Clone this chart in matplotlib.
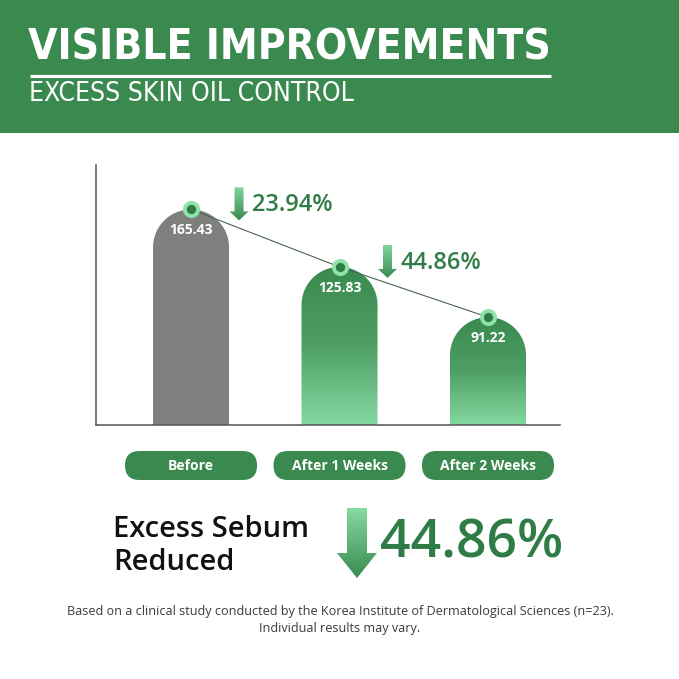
import matplotlib.pyplot as plt
import numpy as np
from matplotlib.patches import Rectangle, FancyBboxPatch, Polygon, PathPatch
from matplotlib.path import Path
from matplotlib.colors import LinearSegmentedColormap

categories = ['Before', 'After 1 Weeks', 'After 2 Weeks']
values = [165.43, 125.83, 91.22]
drops = ['23.94%', '44.86%']
total_drop = '44.86%'
title = 'VISIBLE IMPROVEMENTS'
subtitle = 'EXCESS SKIN OIL CONTROL'
summary = 'Excess Sebum\nReduced'
note = ('Based on a clinical study conducted by the Korea Institute of Dermatological Sciences (n=23).\n'
        'Individual results may vary.')

GREEN = '#3a8a50'
DARK = '#2f7c46'
LIGHT = '#84d9a0'
GRAY = '#7e807d'
W = 679

plt.rcParams['font.family'] = ['Open Sans', 'DejaVu Sans']

fig = plt.figure(figsize=(6.79, 6.79), dpi=100)
bg = fig.add_axes([0, 0, 1, 1])
bg.set_axis_off()

# header band
bg.add_patch(Rectangle((0, 0), W, 133, color=GREEN, lw=0))
bg.text(28, 48, title, color='white', fontsize=30.5, fontweight='bold',
        family='DejaVu Sans', fontstretch='condensed', va='center', ha='left')
bg.plot([30, 551], [76, 76], color='white', lw=2.3, solid_capstyle='butt')
bg.text(29, 94, subtitle, color='white', fontsize=19,
        family='DejaVu Sans', fontstretch='condensed', va='center', ha='left')

# chart area
ax = fig.add_axes([96 / W, (W - 425) / W, 464 / W, 260 / W])
ax.set_zorder(2)
ax.patch.set_alpha(0)
ax.set_xlim(-0.64, 2.485)
ax.set_ylim(17, 196)
for s in ['top', 'right']:
    ax.spines[s].set_visible(False)
for s in ['left', 'bottom']:
    ax.spines[s].set_color('#555555')
    ax.spines[s].set_linewidth(1.1)
ax.set_xticks([])
ax.set_yticks([])

x = np.arange(len(values))
base = ax.get_ylim()[0]
bw = 0.512
px_y = 260 / (ax.get_ylim()[1] - ax.get_ylim()[0])
ry = 38 / px_y
green_cmap = LinearSegmentedColormap.from_list('g', [GREEN, '#4f9f65', LIGHT])
grad = np.linspace(0, 1, 256).reshape(-1, 1)

for i, v in enumerate(values):
    rx = bw / 2
    t = np.linspace(np.pi, 0, 60)
    arc = np.column_stack([x[i] + rx * np.cos(t), v - ry + ry * np.sin(t)])
    verts = np.vstack([[x[i] - rx, base], arc, [x[i] + rx, base], [x[i] - rx, base]])
    patch = PathPatch(Path(verts, closed=True), facecolor=GRAY if i == 0 else 'none',
                      edgecolor='none', zorder=1)
    ax.add_patch(patch)
    if i > 0:
        im = ax.imshow(grad, cmap=green_cmap, extent=(x[i] - rx, x[i] + rx, base, v),
                       origin='upper', aspect='auto', zorder=1)
        im.set_clip_path(patch)

ax.set_xlim(-0.64, 2.485)
ax.set_ylim(17, 196)

ax.plot(x, values, color='#4a6552', lw=0.8, zorder=3)
ax.plot(x, values, 'o', ms=9.5, mfc='#2f7d46', mec='#8fe3aa', mew=2.8, zorder=4)
for i, v in enumerate(values):
    ax.annotate(f'{v:.2f}', (x[i], v), xytext=(0, -21), textcoords='offset pixels',
                ha='center', va='center', color='white', fontsize=10, fontweight='bold', zorder=5)


def grad_arrow(cx, top, head, tip, sw, hw, c_top, c_bot):
    pts = [(cx - sw, top), (cx + sw, top), (cx + sw, head), (cx + hw, head),
           (cx, tip), (cx - hw, head), (cx - sw, head)]
    poly = Polygon(pts, closed=True, facecolor='none', edgecolor='none')
    bg.add_patch(poly)
    cm = LinearSegmentedColormap.from_list('a', [c_top, c_bot])
    im = bg.imshow(grad, cmap=cm, extent=(cx - hw, cx + hw, tip, top),
                   origin='upper', aspect='auto')
    im.set_clip_path(poly)


# drop annotations next to first two markers
for i, d in enumerate(drops):
    dx, dy = ax.transData.transform((x[i], values[i]))
    px, py = dx, W - dy
    grad_arrow(px + 48, py - 22, py + 2, py + 11, 4.5, 9.5, '#7fd69a', '#3a8a50')
    bg.text(px + 61, py - 4, d, color=DARK, fontsize=17, fontweight='semibold',
            va='center', ha='left')

# category pills
for i, cat in enumerate(categories):
    cx = ax.transData.transform((x[i], 0))[0]
    bg.add_patch(FancyBboxPatch((cx - 66, 451), 132, 29, boxstyle='round,pad=0,rounding_size=14.5',
                                facecolor=GREEN, edgecolor='none'))
    bg.text(cx, 466, cat, color='white', fontsize=10, fontweight='bold',
            ha='center', va='center')

# summary
bg.text(113, 546, summary, color='#111111', fontsize=21, fontweight='semibold',
        ha='left', va='center', linespacing=1.15)
grad_arrow(357, 508, 553, 578, 10, 20, '#86dba0', '#3a8a50')
bg.text(380, 544, total_drop, color=DARK, fontsize=38.5, fontweight='semibold',
        ha='left', va='center')

bg.text(340, 620, note, color='#3a3a3a', fontsize=9.1, ha='center', va='center',
        linespacing=1.4)

bg.set_xlim(0, W)
bg.set_ylim(W, 0)

fig.savefig('out.png', dpi=100)
